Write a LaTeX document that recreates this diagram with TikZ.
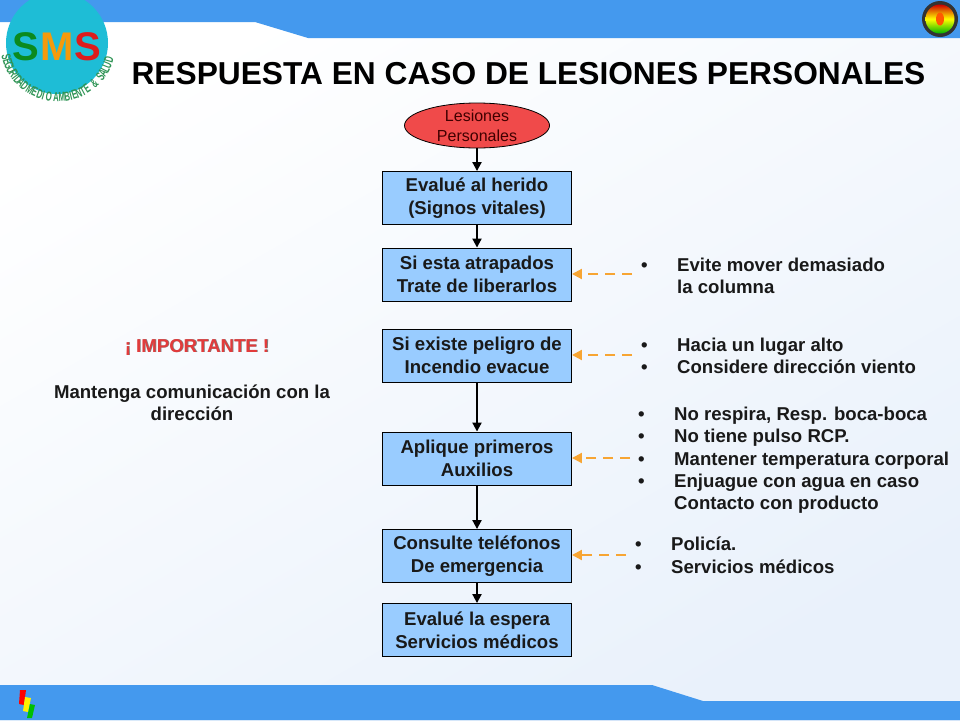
\documentclass[tikz,border=0pt]{standalone}
\usepackage{fontspec}
\setmainfont{Liberation Sans}
\usetikzlibrary{shapes.geometric,arrows.meta}
\definecolor{band}{HTML}{4499EE}
\definecolor{boxfill}{HTML}{99CCFF}
\definecolor{ovalfill}{HTML}{F04A4A}
\definecolor{dashor}{HTML}{F7A533}
\definecolor{logoblue}{HTML}{1EBDD6}
\definecolor{logogreen}{HTML}{0B8A1E}
\definecolor{logoor}{HTML}{F59A0C}
\definecolor{logored}{HTML}{DD1C1C}
\definecolor{logotext}{HTML}{2F9455}
\definecolor{bgend}{HTML}{E9F1FB}
\definecolor{imptext}{HTML}{E23B3B}
\tikzset{
 flowbox/.style={draw=black,line width=0.9pt,fill=boxfill,minimum width=189pt,minimum height=53pt,inner sep=0pt,align=center,font=\fontsize{18.6}{23}\selectfont\bfseries,text=black!90},
 ovalnode/.style={ellipse,draw=black,line width=0.8pt,fill=ovalfill,minimum width=145pt,minimum height=45pt,inner sep=0pt,align=center,font=\fontsize{16}{20}\selectfont,text=black!75!red},
 flowarrow/.style={-{Triangle[length=9pt,width=9pt]},line width=2pt,black},
 notearrow/.style={-{Triangle[length=10pt,width=10pt]},line width=2pt,dashor,dash pattern=on 10pt off 7pt},
 bullets/.style={anchor=north west,align=left,inner sep=0pt,font=\fontsize{18.6}{22.3}\selectfont\bfseries,text=black!90},
 logoletter/.style={inner sep=0pt,font=\fontsize{40}{40}\selectfont\bfseries},
}
\newcommand{\bul}[1]{\makebox[36pt][l]{\textbullet}#1}
\begin{document}
\begin{tikzpicture}[x=1pt,y=-1pt]
\useasboundingbox (0,0) rectangle (960,720);
\shade[left color=white,right color=bgend,shading angle=30] (0,0) rectangle (960,720);
\fill[band] (0,0) -- (960,0) -- (960,38) -- (308,38) -- (255,22) -- (0,22) -- cycle;
\fill[band] (0,720) -- (960,720) -- (960,701) -- (703,701) -- (652,685) -- (0,685) -- cycle;
% logo
\fill[logoblue] (57,43) circle (51);
\node[logoletter] (lgs) at (25.5,47) {\textcolor{logogreen}{S}};
\node[logoletter] (lgm) at (57,47) {\textcolor{logoor}{M}};
\node[logoletter] (lgt) at (88,47) {\textcolor{logored}{S}};
\foreach \c/\ang [count=\i] in {S/167,E/162,G/157,U/152,R/147,I/143,D/139,A/134,D/129,M/122,E/116,D/110,I/106,O/100,A/92,M/86,B/80,I/76,E/72,N/67,T/62,E/57,\&/47,S/37,A/32,L/27,U/22,D/16}{
  \node[inner sep=0pt,text=logotext,font=\fontsize{13}{13}\selectfont\bfseries,rotate=90-\ang,xscale=0.6] (lt\i) at ({58+53*cos(\ang)},{46+51*sin(\ang)}) {\c};
}
% flag
\fill[black!80] (940,19) circle (18);
\shade[top color=red!80!black,bottom color=green!70!black,middle color=yellow] (940,19) circle (14.5);
\fill[orange!70!red] (940,19) ellipse (4 and 6.5);
% corner mark
\fill[red] (20,690) -- (26,690) -- (24,705) -- (19,704) -- cycle;
\fill[yellow] (25,697) -- (31,698) -- (28,712) -- (23,711) -- cycle;
\fill[green!75!black] (30,704) -- (35,705) -- (32,718) -- (27,718) -- cycle;
% title
\node[inner sep=0pt,font=\fontsize{31.7}{32}\selectfont\bfseries] (title) at (528.5,74) {RESPUESTA EN CASO DE LESIONES PERSONALES};
% flow
\node[ovalnode] (n0) at (477,125.5) {Lesiones\\Personales};
\node[flowbox] (n1) at (477,198) {Evalué al herido\\(Signos vitales)};
\node[flowbox] (n2) at (477,274.5) {Si esta atrapados\\Trate de liberarlos};
\node[flowbox] (n3) at (477,355.5) {Si existe peligro de\\Incendio evacue};
\node[flowbox] (n4) at (477,458.5) {Aplique primeros\\Auxilios};
\node[flowbox] (n5) at (477,556) {Consulte teléfonos\\De emergencia};
\node[flowbox] (n6) at (477,630) {Evalué la espera\\Servicios médicos};
\draw[flowarrow] (n0) -- (n1);
\draw[flowarrow] (n1) -- (n2);
\draw[flowarrow] (n3) -- (n4);
\draw[flowarrow] (n4) -- (n5);
\draw[flowarrow] (n5) -- (n6);
% notes
\coordinate (c2) at (632,274);
\coordinate (c3) at (632,355);
\coordinate (c4) at (630,458);
\coordinate (c5) at (626,555);
\draw[notearrow] (c2) -- (n2.east |- c2);
\draw[notearrow] (c3) -- (n3.east |- c3);
\draw[notearrow] (c4) -- (n4.east |- c4);
\draw[notearrow] (c5) -- (n5.east |- c5);
\node[bullets] (t2) at (641,258) {\bul{Evite mover demasiado}\\\hspace*{36pt}la columna};
\node[bullets] (t3) at (641,338) {\bul{Hacia un lugar alto}\\\bul{Considere dirección viento}};
\node[bullets] (t4) at (638,407) {\bul{No respira, Resp. boca-boca}\\\bul{No tiene pulso RCP.}\\\bul{Mantener temperatura corporal}\\\bul{Enjuague con agua en caso}\\\hspace*{36pt}Contacto con producto};
\node[bullets] (t5) at (635,537) {\bul{Policía.}\\\bul{Servicios médicos}};
% left text
\node[inner sep=0pt,font=\fontsize{18.6}{23}\selectfont\bfseries,text=black!50] (impS) at (197.8,347.8) {¡ IMPORTANTE !};
\node[inner sep=0pt,font=\fontsize{18.6}{23}\selectfont\bfseries,text=imptext] (imp) at (197,347) {¡ IMPORTANTE !};
\node[inner sep=0pt,align=center,font=\fontsize{18.6}{22}\selectfont\bfseries,text=black!90] (com) at (192,402.5) {Mantenga comunicación con la\\dirección};
\end{tikzpicture}
\end{document}
